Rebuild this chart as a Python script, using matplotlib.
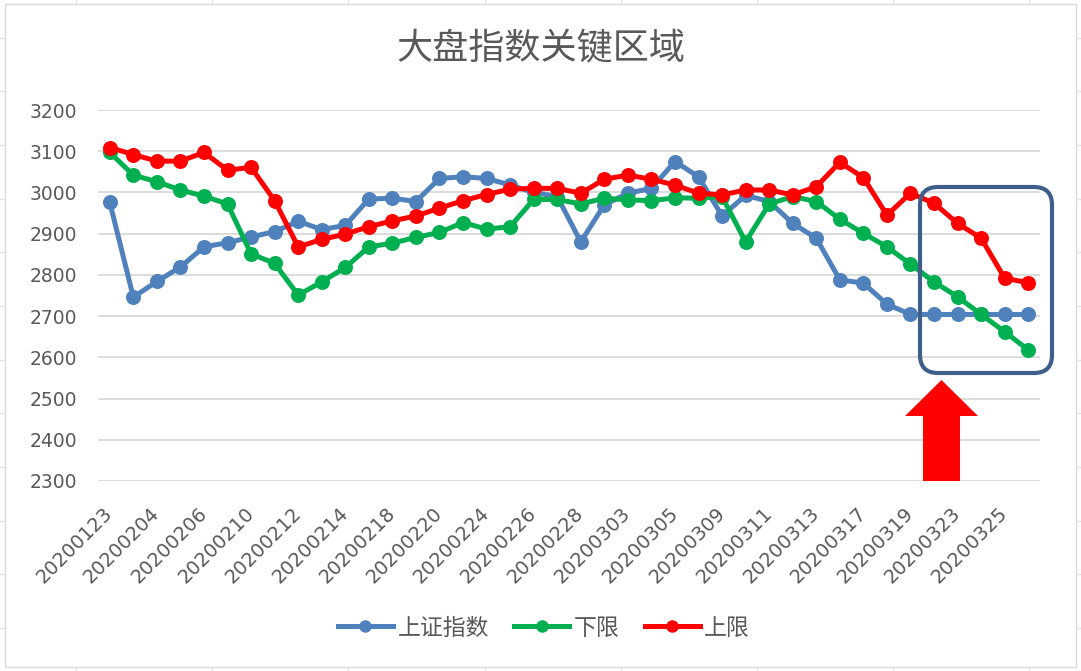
import matplotlib
matplotlib.use("Agg")
import matplotlib.pyplot as plt
from matplotlib.patches import FancyBboxPatch, Polygon, Rectangle
from matplotlib.lines import Line2D
from matplotlib.transforms import IdentityTransform

dates = ["20200123", "20200203", "20200204", "20200205", "20200206", "20200207",
         "20200210", "20200211", "20200212", "20200213", "20200214", "20200217",
         "20200218", "20200219", "20200220", "20200221", "20200224", "20200225",
         "20200226", "20200227", "20200228", "20200302", "20200303", "20200304",
         "20200305", "20200306", "20200309", "20200310", "20200311", "20200312",
         "20200313", "20200316", "20200317", "20200318", "20200319", "20200320",
         "20200323", "20200324", "20200325", "20200326"]

sh_index = [2976, 2746, 2784, 2819, 2868, 2878, 2892, 2905, 2930, 2910,
            2920, 2984, 2986, 2978, 3034, 3038, 3034, 3018, 3000, 2990,
            2880, 2970, 2998, 3010, 3075, 3038, 2943, 2993, 2978, 2925,
            2889, 2788, 2780, 2729, 2704, 2704, 2704, 2704, 2704, 2704]

lower = [3097, 3042, 3026, 3006, 2991, 2972, 2851, 2828, 2751, 2783,
         2818, 2868, 2877, 2891, 2903, 2927, 2911, 2917, 2983, 2983,
         2972, 2986, 2982, 2980, 2987, 2986, 2990, 2880, 2972, 2990,
         2978, 2935, 2901, 2868, 2826, 2783, 2747, 2704, 2662, 2618]

upper = [3109, 3092, 3076, 3076, 3097, 3054, 3061, 2980, 2868, 2886,
         2899, 2917, 2931, 2943, 2962, 2980, 2995, 3008, 3010, 3010,
         2998, 3032, 3042, 3032, 3018, 2998, 2994, 3006, 3006, 2994,
         3014, 3073, 3036, 2945, 2998, 2974, 2925, 2889, 2792, 2781]

series_names = ["上证指数", "下限", "上限"]
series_colors = ["#4F81BD", "#00B050", "#FF0000"]
title = "大盘指数关键区域"
y_ticks = [2300, 2400, 2500, 2600, 2700, 2800, 2900, 3000, 3100, 3200]

W, H = 1081, 671
fig = plt.figure(figsize=(W / 100, H / 100), dpi=100)
fig.patch.set_facecolor("white")

def px(x0, y0, x1, y1):
    # convert pixel box (top-left origin) to figure fraction rect
    return [x0 / W, 1 - y1 / H, (x1 - x0) / W, (y1 - y0) / H]

ax = fig.add_axes(px(98, 110, 1040, 481))
ax.set_facecolor("white")

x = list(range(len(dates)))
for vals, name, col in zip([sh_index, lower, upper], series_names, series_colors):
    ax.plot(x, vals, color=col, lw=3.6, marker="o", markersize=10.8,
            markeredgewidth=0, label=name, solid_capstyle="round", zorder=3)

ax.set_xlim(-0.5, len(dates) - 0.5)
ax.set_ylim(2300, 3200)
ax.set_yticks(y_ticks)
ax.set_yticklabels([str(v) for v in y_ticks], fontsize=13.5, color="#595959",
                   family="DejaVu Sans")
ax.set_xticks(x[::2])
ax.set_xticklabels(dates[::2], rotation=45, ha="right", va="center",
                   rotation_mode="anchor", fontsize=14, color="#595959",
                   family="DejaVu Sans")
ax.tick_params(axis="y", length=0, pad=15)
ax.tick_params(axis="x", length=0, pad=21)
ax.grid(axis="y", color="#D9D9D9", lw=1.3, zorder=0)
ax.set_axisbelow(True)
for s in ax.spines.values():
    s.set_visible(False)

fig.text(541 / W, 1 - 49 / H, title, ha="center", va="center", fontsize=26,
         color="#595959", family=["Noto Sans CJK SC", "DejaVu Sans"])

handles = [Line2D([0], [0], color=c, lw=3.6, marker="o", markersize=9,
                  markeredgewidth=0) for c in series_colors]
leg = fig.legend(handles, series_names, loc="center", ncol=3,
                 bbox_to_anchor=(544 / W, 1 - 628 / H), frameon=False,
                 prop={"family": ["Noto Sans CJK SC", "DejaVu Sans"], "size": 16.5},
                 handlelength=2.4, handletextpad=0.2, columnspacing=1.1)
for t in leg.get_texts():
    t.set_color("#595959")

idt = IdentityTransform()
def fy(y):
    return H - y

# highlighted region box (annotation)
box = FancyBboxPatch((920, fy(373)), 132, 186,
                     boxstyle="round,pad=0,rounding_size=18",
                     transform=idt, fill=False, edgecolor="#3E5F8A", lw=3,
                     zorder=5)
fig.patches.append(box)

# red up arrow (annotation)
arrow_pts = [(923, fy(481)), (960, fy(481)), (960, fy(416)), (978, fy(416)),
             (941.5, fy(380)), (905, fy(416)), (923, fy(416))]
arrow = Polygon(arrow_pts, closed=True, transform=idt, facecolor="#FF0000",
                edgecolor="none", zorder=5)
fig.patches.append(arrow)

# chart border
border = Rectangle((5, fy(667)), 1071, 663, transform=idt, fill=False,
                   edgecolor="#D9D9D9", lw=1)
fig.patches.append(border)

# faint spreadsheet cell lines outside the chart
for xv in [76, 212, 348, 485, 621, 757, 893, 1029]:
    fig.lines.append(Line2D([xv, xv], [fy(0), fy(4)], transform=idt,
                            color="#E3E3E3", lw=1))
    fig.lines.append(Line2D([xv, xv], [fy(667), fy(671)], transform=idt,
                            color="#E3E3E3", lw=1))
for yv in [38, 91, 145, 199, 252, 306, 360, 413, 467, 521, 574, 628]:
    fig.lines.append(Line2D([0, 5], [fy(yv), fy(yv)], transform=idt,
                            color="#E3E3E3", lw=1))
    fig.lines.append(Line2D([1076, 1081], [fy(yv), fy(yv)], transform=idt,
                            color="#E3E3E3", lw=1))

fig.savefig("out.png", dpi=100)
